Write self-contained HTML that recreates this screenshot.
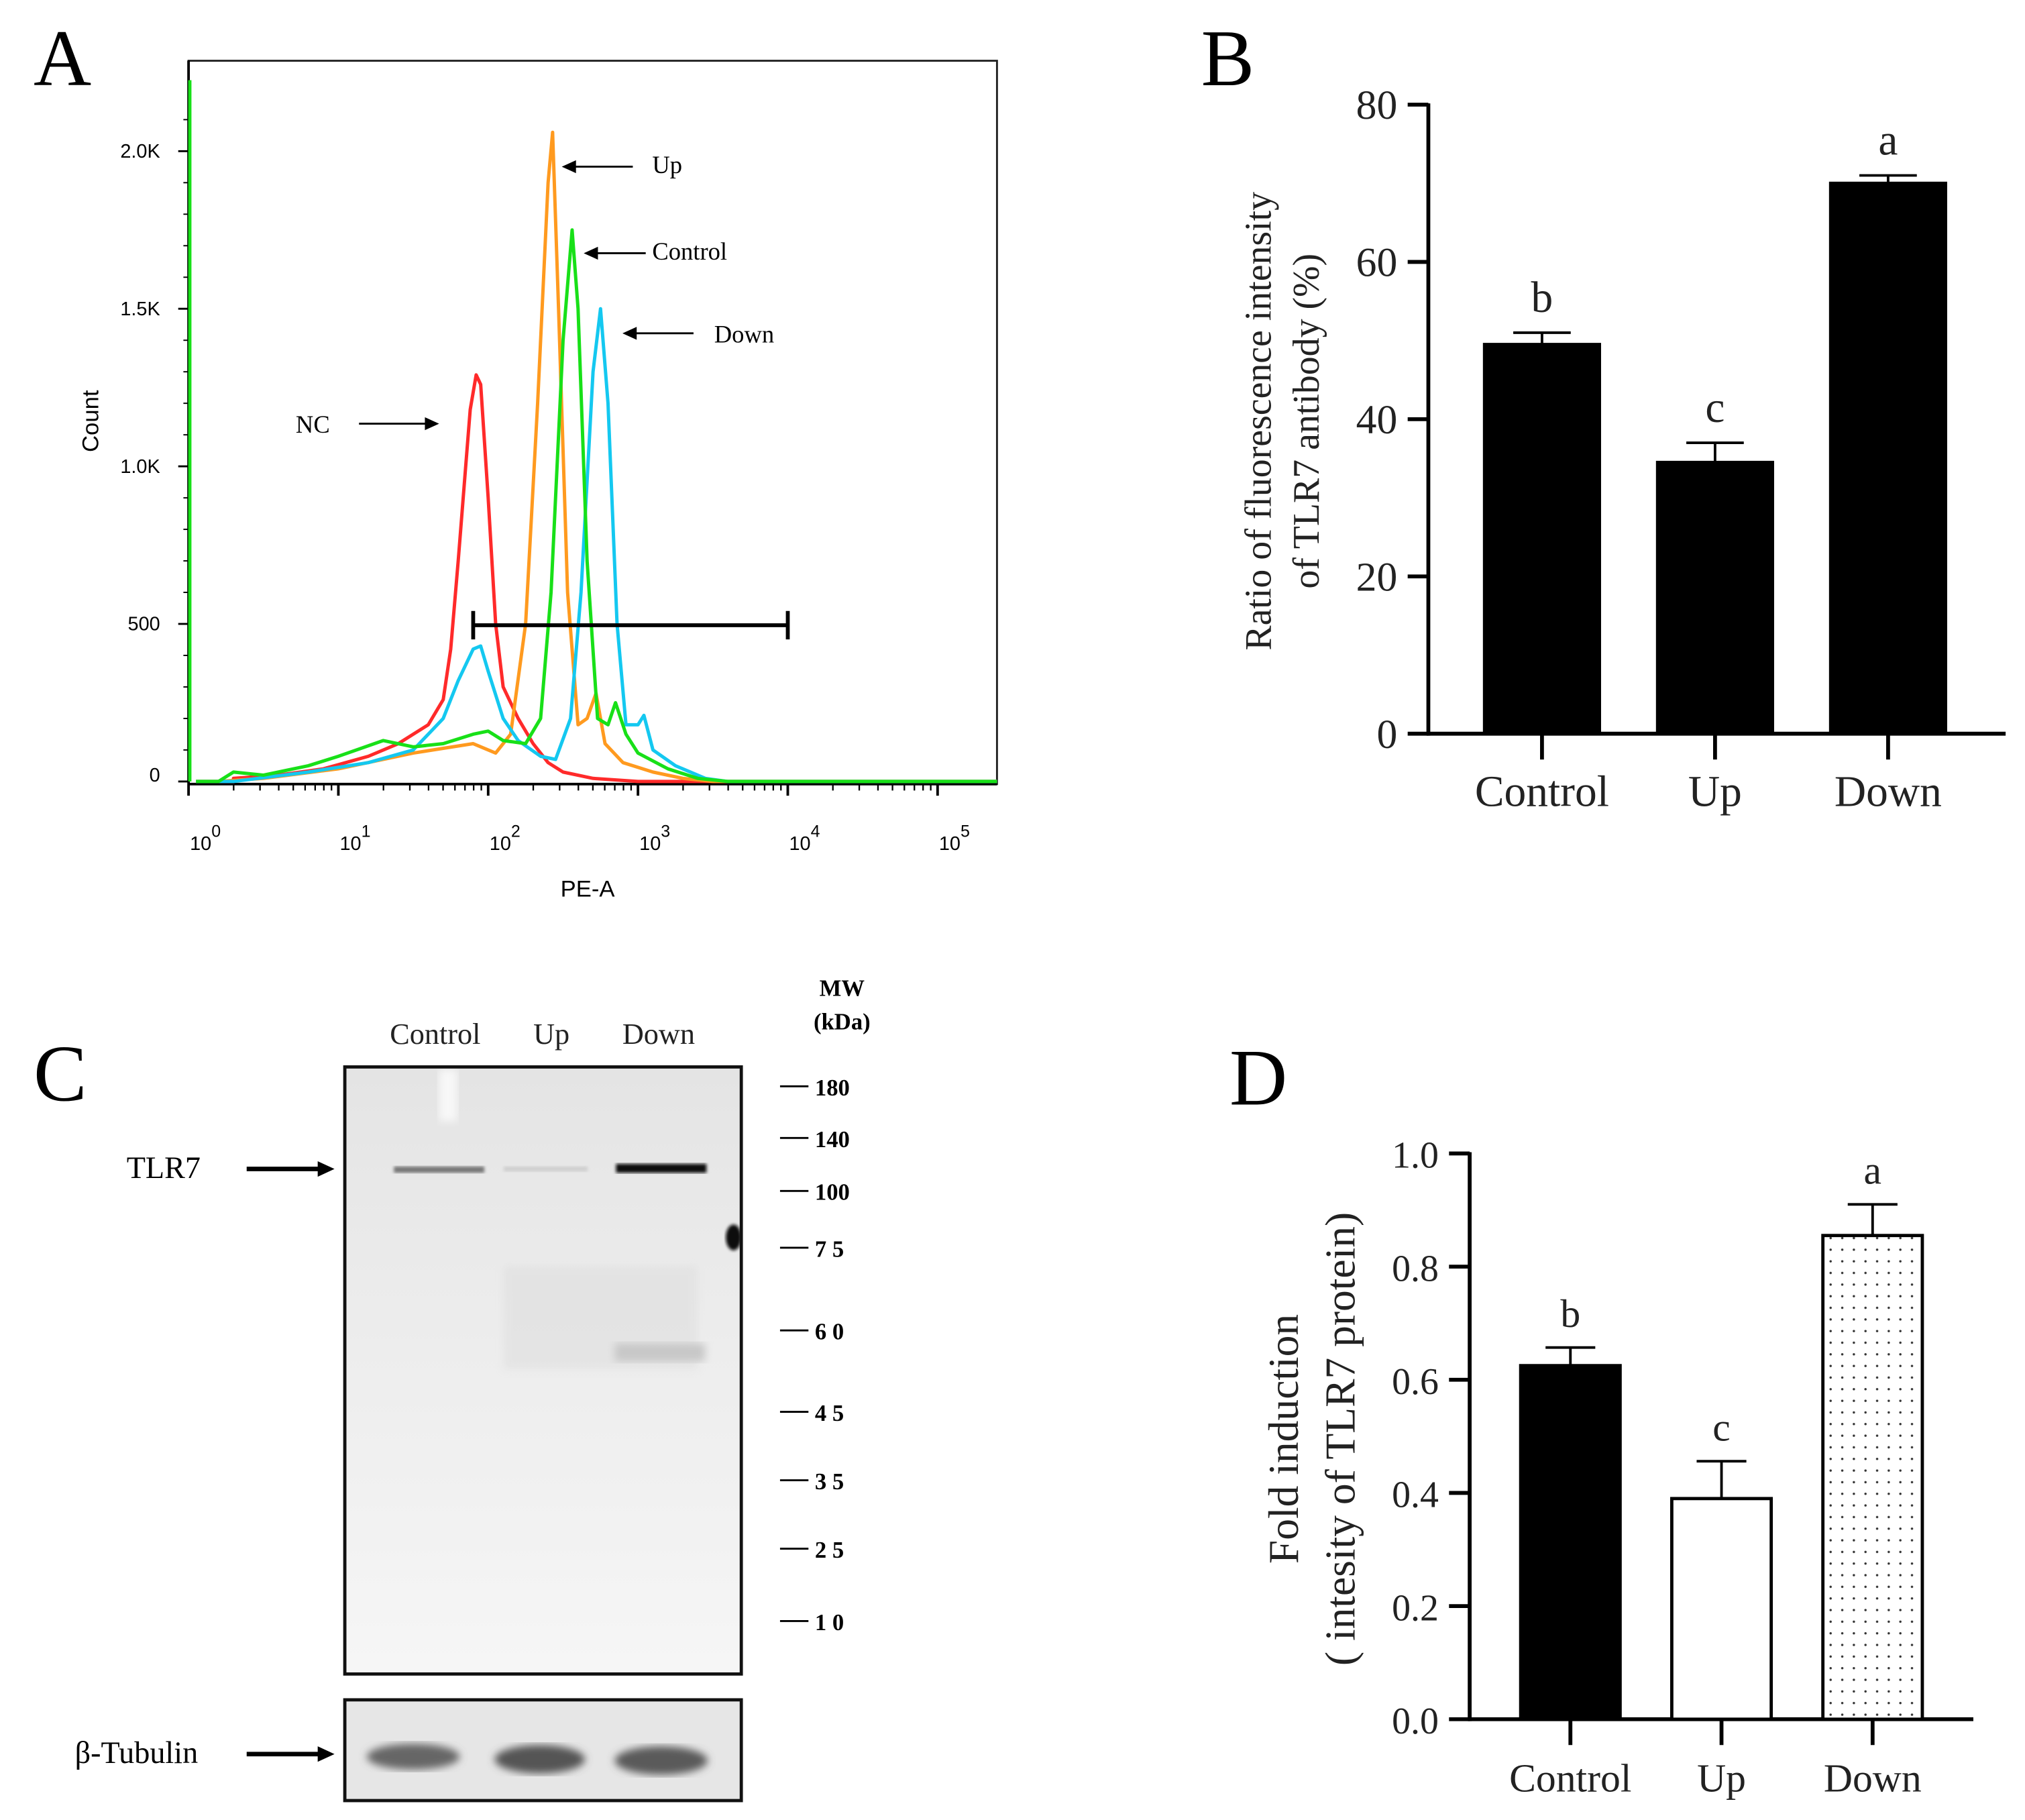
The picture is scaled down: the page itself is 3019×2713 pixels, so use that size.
<!DOCTYPE html>
<html><head><meta charset="utf-8">
<style>
html,body{margin:0;padding:0;background:#fff;}
svg{display:block;}
text{font-family:"Liberation Serif",serif;}
.sans{font-family:"Liberation Sans",sans-serif;}
</style></head>
<body>
<svg id="fig" xmlns="http://www.w3.org/2000/svg" width="3019" height="2713" viewBox="0 0 1568 1409">
<defs>
<pattern id="dots" width="9" height="9" patternUnits="userSpaceOnUse">
<rect width="9" height="9" fill="#fff"/><circle cx="4.5" cy="4.5" r="0.9" fill="#333"/>
</pattern>
<linearGradient id="gelg" x1="0" y1="0" x2="0" y2="1">
<stop offset="0" stop-color="#e4e4e4"/><stop offset="0.35" stop-color="#ebebeb"/><stop offset="1" stop-color="#f6f6f6"/>
</linearGradient>
<filter id="blur3"><feGaussianBlur stdDeviation="3"/></filter>
<filter id="blur1"><feGaussianBlur stdDeviation="1.3"/></filter>
</defs>

<text x="26" y="66" font-size="62">A</text>
<text x="930" y="66" font-size="62">B</text>
<text x="26" y="852" font-size="62">C</text>
<text x="952" y="855" font-size="62">D</text>

<g id="panelA">
<rect x="146" y="47" width="626" height="560" fill="none" stroke="#222" stroke-width="1.5"/>
<g id="aAxes"></g>
<g id="aCurves"></g>
<text x="76" y="326" font-size="18" class="sans" transform="rotate(-90 76 326)" text-anchor="middle">Count</text>
<text x="455" y="694" font-size="18" class="sans" text-anchor="middle">PE-A</text>
<g id="aAnn" font-size="19"></g>
</g>

<g id="panelB"></g>

<g id="panelC">
<text x="337" y="808" font-size="23" text-anchor="middle" fill="#222">Control</text>
<text x="427" y="808" font-size="23" text-anchor="middle" fill="#222">Up</text>
<text x="510" y="808" font-size="23" text-anchor="middle" fill="#222">Down</text>
<text x="652" y="771" font-size="18" font-weight="bold" text-anchor="middle">MW</text>
<text x="652" y="797" font-size="18" font-weight="bold" text-anchor="middle">(kDa)</text>
<rect x="267" y="826" width="307" height="470" fill="url(#gelg)"/>
<rect x="340" y="828" width="14" height="40" fill="#f8f8f8" filter="url(#blur3)"/>
<rect x="390" y="980" width="150" height="80" fill="#dcdcdc" opacity="0.5" filter="url(#blur3)"/>
<rect x="476" y="1040" width="70" height="14" fill="#c8c8c8" filter="url(#blur3)"/>
<ellipse cx="568" cy="958" rx="6" ry="10" fill="#111" filter="url(#blur1)"/>
<rect x="305" y="903" width="70" height="5" fill="#777" filter="url(#blur1)"/>
<rect x="390" y="903" width="65" height="4" fill="#cfcfcf" filter="url(#blur1)"/>
<rect x="477" y="901" width="70" height="7" fill="#111" filter="url(#blur1)"/>
<rect x="267" y="826" width="307" height="470" fill="none" stroke="#111" stroke-width="2.5"/>
<rect x="267" y="1316" width="307" height="78" fill="#e6e6e6"/>
<ellipse cx="320" cy="1360" rx="36" ry="10" fill="#666" filter="url(#blur3)"/>
<ellipse cx="418" cy="1362" rx="35" ry="11" fill="#555" filter="url(#blur3)"/>
<ellipse cx="512" cy="1363" rx="36" ry="11" fill="#5a5a5a" filter="url(#blur3)"/>
<rect x="267" y="1316" width="307" height="78" fill="none" stroke="#111" stroke-width="2.5"/>
<text x="98" y="912" font-size="24">TLR7</text>
<line x1="191" y1="905" x2="248" y2="905" stroke="#000" stroke-width="3.5"/>
<polygon points="259,905 246,899 246,911" fill="#000"/>
<text x="58" y="1365" font-size="24">β-Tubulin</text>
<line x1="191" y1="1358" x2="248" y2="1358" stroke="#000" stroke-width="3.5"/>
<polygon points="259,1358 246,1352 246,1364" fill="#000"/>
<g id="mw" font-size="18" font-weight="bold"></g>
</g>

<g id="panelD"></g>
</svg>

<script>
var NS="http://www.w3.org/2000/svg";
function mk(parent,tag,attrs,txt){var e=document.createElementNS(NS,tag);for(var k in attrs)e.setAttribute(k,attrs[k]);if(txt!==undefined)e.textContent=txt;parent.appendChild(e);return e;}

var redLog=[0.3,0.6,0.9,1.2,1.4,1.6,1.7,1.75,1.8,1.85,1.88,1.92,1.95,2.0,2.05,2.1,2.2,2.3,2.4,2.5,2.7,3.0];
var redCount=[10,20,40,80,120,180,260,420,700,1000,1180,1290,1260,900,500,300,200,120,60,30,10,0];
var orangeLog=[0.2,0.5,1.0,1.5,1.9,2.05,2.15,2.25,2.33,2.4,2.43,2.47,2.53,2.6,2.66,2.72,2.78,2.9,3.1,3.3,3.5];
var orangeCount=[0,10,40,90,120,90,150,500,1200,1900,2060,1500,600,180,200,280,120,60,30,10,0];
var greenLog=[0.2,0.3,0.5,0.8,1.0,1.3,1.5,1.7,1.9,2.0,2.1,2.25,2.35,2.42,2.5,2.56,2.6,2.66,2.73,2.8,2.85,2.92,3.0,3.2,3.4,3.6];
var greenCount=[0,30,20,50,80,130,110,120,150,160,130,120,200,600,1400,1750,1500,700,200,180,250,150,90,40,10,0];
var cyanLog=[0.3,0.8,1.2,1.5,1.7,1.8,1.9,1.95,2.0,2.1,2.2,2.35,2.45,2.55,2.62,2.7,2.75,2.8,2.86,2.92,3.0,3.04,3.1,3.25,3.45,3.6];
var cyanCount=[0,30,60,100,200,320,420,430,350,200,130,80,70,200,600,1300,1500,1200,500,180,180,210,100,50,10,0];
var yTicksA=[0,500,1000,1500,2000];
var yTickLabelsA=["0","500","1.0K","1.5K","2.0K"];
var decadesA=[0,1,2,3,4,5];
var gateLog=[1.9,4.0];
var gateCount=500;

var ax=function(l){return 146+116*l;};
var ay=function(c){return 605-c*0.244;};

var aAxes=document.getElementById('aAxes');
yTicksA.forEach(function(v,i){
  var t=mk(aAxes,'line',{x1:138,x2:146,y1:ay(v),y2:ay(v),stroke:'#000','stroke-width':1.5});
  
  
  var lb=mk(aAxes,'text',{x:124,y:ay(v)+(v===0?0:5),'font-size':15,'text-anchor':'end','class':'sans'},yTickLabelsA[i]);
  
  
});
for(var c=100;c<2200;c+=100){mk(aAxes,'line',{x1:142,x2:146,y1:ay(c),y2:ay(c),stroke:'#000','stroke-width':1});}
decadesA.forEach(function(d){
  var x=ax(d);
  var t=mk(aAxes,'line',{x1:x,x2:x,y1:607,y2:616,stroke:'#000','stroke-width':2});
  
  
  var g=mk(aAxes,'text',{x:x+13,y:658,'font-size':15,'text-anchor':'middle','class':'sans'});
  
  
  mk(g,'tspan',{},'10');
  mk(g,'tspan',{dy:-10,'font-size':13},String(d));
  if(d<5){for(var m=2;m<10;m++){var xm=ax(d+Math.log10(m));if(xm<772)mk(aAxes,'line',{x1:xm,x2:xm,y1:607,y2:612,stroke:'#000','stroke-width':1.2});}}
});
mk(aAxes,'line',{x1:146,x2:146,y1:47,y2:607,stroke:'#000','stroke-width':2});
mk(aAxes,'line',{x1:146,x2:772,y1:607,y2:607,stroke:'#000','stroke-width':2});

var aCurves=document.getElementById('aCurves');
function curve(logs,counts,color,name){
  var d='M'+ax(0.05)+','+ay(0)+' L'+ax(logs[0])+','+ay(0);
  for(var i=0;i<logs.length;i++)d+=' L'+ax(logs[i]).toFixed(1)+','+ay(counts[i]).toFixed(1);
  d+=' L772,'+ay(0);
  var p=mk(aCurves,'path',{d:d,fill:'none',stroke:color,'stroke-width':2.6,'stroke-linejoin':'round'});
  
  
}
curve(redLog,redCount,'#ff2a2a','nc-curve');
curve(orangeLog,orangeCount,'#ff9a1f','up-curve');
curve(cyanLog,cyanCount,'#14c8f0','down-curve');
curve(greenLog,greenCount,'#18e018','control-curve');
var gl=mk(aCurves,'line',{x1:147,x2:147,y1:62,y2:605,stroke:'#18e018','stroke-width':2.5});


var gy=ay(gateCount)+1;
var gate=mk(aCurves,'g',{stroke:'#000','stroke-width':3});


mk(gate,'line',{x1:ax(gateLog[0]),x2:ax(gateLog[1]),y1:gy,y2:gy});
mk(gate,'line',{x1:ax(gateLog[0]),x2:ax(gateLog[0]),y1:gy-11,y2:gy+11});
mk(gate,'line',{x1:ax(gateLog[1]),x2:ax(gateLog[1]),y1:gy-11,y2:gy+11});

var aAnn=document.getElementById('aAnn');
function ann(txt,tx,ty,x1,x2,y,name){
  var t=mk(aAnn,'text',{x:tx,y:ty},txt);
  
  
  mk(aAnn,'line',{x1:x1,x2:x2+(x2>x1?-8:8),y1:y,y2:y,stroke:'#000','stroke-width':1.5});
  var dir=x2>x1?-1:1;
  var a=mk(aAnn,'polygon',{points:x2+','+y+' '+(x2+dir*11)+','+(y-5)+' '+(x2+dir*11)+','+(y+5),fill:'#000'});
  
  
}
ann('Up',505,134,490,435,129,'up');
ann('Control',505,201,500,452,196,'control');
ann('Down',553,265,537,482,258,'down');
ann('NC',229,335,278,340,328,'nc');

var bCats=["Control","Up","Down"];
var bVals=[49.5,34.5,70];
var bErr=[1.5,2.5,1];
var bLetters=["b","c","a"];
var bTicks=[0,20,40,60,80];

var dCats=["Control","Up","Down"];
var dVals=[0.625,0.39,0.855];
var dErr=[0.032,0.066,0.055];
var dLetters=["b","c","a"];
var dTicks=[0,0.2,0.4,0.6,0.8,1.0];
var dTickLabels=["0.0","0.2","0.4","0.6","0.8","1.0"];

function barChart(g,o){
  var yS=function(v){return o.y0-(v-o.min)/(o.max-o.min)*(o.y0-o.y1);};
  mk(g,'line',{x1:o.ax,x2:o.ax,y1:o.y1-1,y2:o.y0+1.5,stroke:'#000','stroke-width':3});
  mk(g,'line',{x1:o.ax-1,x2:o.xEnd,y1:o.y0,y2:o.y0,stroke:'#000','stroke-width':3});
  o.ticks.forEach(function(v,i){
    var t=mk(g,'line',{x1:o.ax-16,x2:o.ax,y1:yS(v),y2:yS(v),stroke:'#000','stroke-width':3});
    
    
    var l=mk(g,'text',{x:o.ax-24,y:yS(v)+11,'font-size':o.fs,'text-anchor':'end',fill:'#222'},o.tickLabels[i]);
    
    
  });
  o.cats.forEach(function(c,i){
    var cx=o.c0+i*o.step, w=o.bw;
    var top=yS(o.vals[i]), et=yS(o.vals[i]+o.err[i]);
    var el=mk(g,'line',{x1:cx,x2:cx,y1:et,y2:top,stroke:'#000','stroke-width':2});
    
    
    mk(g,'line',{x1:cx-w*0.25,x2:cx+w*0.25,y1:et,y2:et,stroke:'#000','stroke-width':2});
    var r=mk(g,'rect',{x:cx-w/2,y:top,width:w,height:o.y0-top,fill:o.fills[i],stroke:'#000','stroke-width':2.5});
    
    
    var t=mk(g,'line',{x1:cx,x2:cx,y1:o.y0,y2:o.y0+20,stroke:'#000','stroke-width':3});
    
    
    var l=mk(g,'text',{x:cx,y:o.y0+56,'font-size':o.fs+2,'text-anchor':'middle',fill:'#222'},c);
    
    
    var s=mk(g,'text',{x:cx,y:et-16,'font-size':o.fs+2,'text-anchor':'middle',fill:'#222'},o.letters[i]);
    
    
  });
  o.titles.forEach(function(tt,i){
    var t=mk(g,'text',{x:o.tx[i],y:o.ty,'font-size':o.tfs,'text-anchor':'middle',fill:'#222',transform:'rotate(-90 '+o.tx[i]+' '+o.ty+')'},tt);
    
    
  });
}
barChart(document.getElementById('panelB'),{ax:1106,y0:568,y1:81,min:0,max:80,xEnd:1553,ticks:bTicks,tickLabels:bTicks.map(String),
  cats:bCats,vals:bVals,err:bErr,letters:bLetters,c0:1194,step:134,bw:89,fills:['#000','#000','#000'],fs:32,
  titles:["Ratio of fluorescence intensity","of TLR7 antibody (%)"],tx:[984,1021],ty:326,tfs:29});
barChart(document.getElementById('panelD'),{ax:1138,y0:1331,y1:893,min:0,max:1,xEnd:1528,ticks:dTicks,tickLabels:dTickLabels,
  cats:dCats,vals:dVals,err:dErr,letters:dLetters,c0:1216,step:117,bw:77,fills:['#000','#fff','url(#dots)'],fs:29,
  titles:["Fold induction","( intesity of TLR7 protein)"],tx:[1005,1049],ty:1114,tfs:33});

var mwLabels=["180","140","100","7 5","6 0","4 5","3 5","2 5","1 0"];
var mwY=[842,882,923,967,1031,1094,1147,1200,1256];
var mw=document.getElementById('mw');
mwLabels.forEach(function(l,i){
  mk(mw,'line',{x1:604,x2:626,y1:mwY[i]-1,y2:mwY[i]-1,stroke:'#000','stroke-width':1.5});
  var t=mk(mw,'text',{x:631,y:mwY[i]+6},l);
  
  
});
</script>
</body></html>
